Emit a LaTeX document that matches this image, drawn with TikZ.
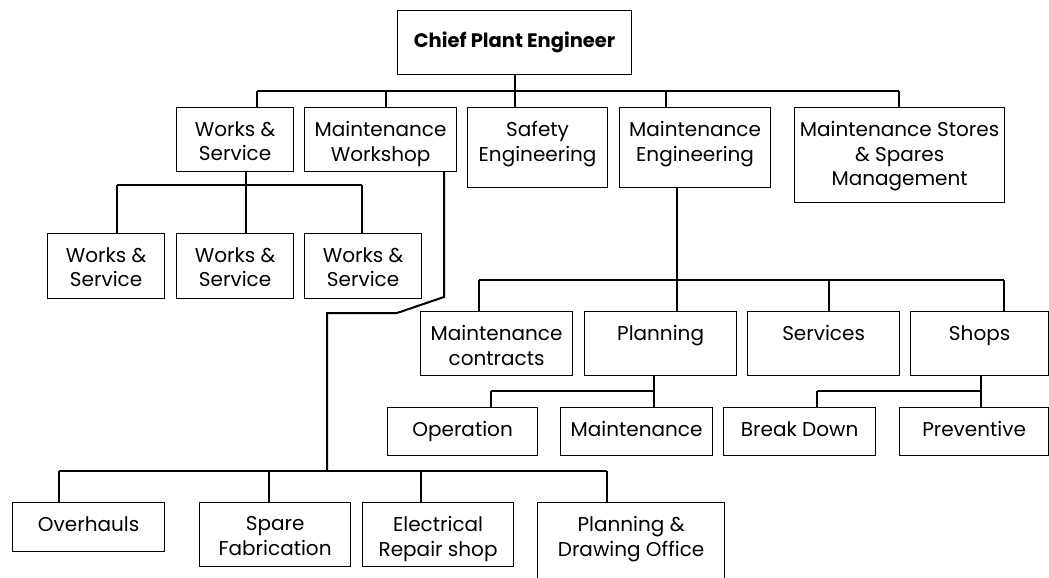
\documentclass[tikz,border=0pt]{standalone}
\usepackage{fontspec}
\setmainfont{Poppins}

\begin{document}
\begin{tikzpicture}[
    x=1pt, y=-1pt,
    box/.style={
        rectangle, draw=black, line width=1.2pt,
        anchor=north west, inner sep=0pt
    },
    txt/.style={
        anchor=north, align=center, inner sep=0pt, yshift=-14pt,
        font=\fontsize{20}{24.7}\selectfont
    },
    link/.style={line width=2pt},
]
\useasboundingbox (0,0) rectangle (1049,578);
\clip (0,0) rectangle (1049,578);

% Capo
\node[box, minimum width=234pt, minimum height=64pt,
      font=\fontsize{19.5}{23}\selectfont\bfseries] (chief) at (397,10)
    {Chief Plant Engineer};

% Primo livello
\node[box, minimum width=117pt, minimum height=64pt,
      label={[txt]north:Works \&\\Service}] (ws) at (176,107) {};
\node[box, minimum width=152pt, minimum height=64pt,
      label={[txt]north:Maintenance\\Workshop}] (shop) at (304,107) {};
\node[box, minimum width=140pt, minimum height=80pt,
      label={[txt]north:Safety\\Engineering}] (safety) at (467,107) {};
\node[box, minimum width=151pt, minimum height=80pt,
      label={[txt]north:Maintenance\\Engineering}] (meng) at (619,107) {};
\node[box, minimum width=210pt, minimum height=95pt,
      label={[txt]north:Maintenance Stores\\\& Spares\\Management}] (stores) at (794,107) {};

% Works & Service
\node[box, minimum width=117pt, minimum height=65pt,
      label={[txt]north:Works \&\\Service}] (ws1) at (47,233) {};
\node[box, minimum width=117pt, minimum height=65pt,
      label={[txt]north:Works \&\\Service}] (ws2) at (176,233) {};
\node[box, minimum width=117pt, minimum height=65pt,
      label={[txt]north:Works \&\\Service}] (ws3) at (304,233) {};

% Maintenance Engineering
\node[box, minimum width=152pt, minimum height=64pt,
      label={[txt]north:Maintenance\\contracts}] (contracts) at (420,311) {};
\node[box, minimum width=152pt, minimum height=64pt,
      label={[txt]north:Planning}] (planning) at (584,311) {};
\node[box, minimum width=152pt, minimum height=64pt,
      label={[txt]north:Services}] (services) at (747,311) {};
\node[box, minimum width=138pt, minimum height=64pt,
      label={[txt]north:Shops}] (shops) at (910,311) {};

% Planning / Shops
\node[box, minimum width=150pt, minimum height=48pt,
      label={[txt]north:Operation}] (oper) at (387,407) {};
\node[box, minimum width=152pt, minimum height=48pt,
      label={[txt]north:Maintenance}] (maint) at (560,407) {};
\node[box, minimum width=152pt, minimum height=48pt,
      label={[txt]north:Break Down}] (bdown) at (723,407) {};
\node[box, minimum width=149pt, minimum height=48pt,
      label={[txt]north:Preventive}] (prev) at (899,407) {};

% Maintenance Workshop
\node[box, minimum width=152pt, minimum height=49pt,
      label={[txt]north:Overhauls}] (overh) at (12,502) {};
\node[box, minimum width=151pt, minimum height=64pt,
      label={[txt]north:Spare\\Fabrication}] (spare) at (199,502) {};
\node[box, minimum width=151pt, minimum height=64pt,
      label={[txt]north:Electrical\\Repair shop}] (elec) at (362,502) {};
\node[box, minimum width=187pt, minimum height=100pt,
      label={[txt]north:Planning \&\\Drawing Office}] (pdo) at (537,502) {};

% Collegamenti primo livello
\coordinate (t1) at (257,91);
\coordinate (t2) at (386,91);
\coordinate (t3) at (666,91);
\coordinate (t4) at (899,91);
\draw[link] (chief.south) -- (chief.south |- safety.north);
\draw[link] (t1) -- (t4);
\draw[link] (t1) -- (t1 |- ws.north);
\draw[link] (t2) -- (t2 |- shop.north);
\draw[link] (t3) -- (t3 |- meng.north);
\draw[link] (t4) -- (t4 |- stores.north);

% Works & Service
\coordinate (w0) at (246,185);
\coordinate (w1) at (117,185);
\coordinate (w3) at (362,185);
\draw[link] (ws.south -| w0) -- (w0);
\draw[link] (w1) -- (w3);
\draw[link] (w1) -- (w1 |- ws1.north);
\draw[link] (w0) -- (w0 |- ws2.north);
\draw[link] (w3) -- (w3 |- ws3.north);

% Maintenance Workshop
\coordinate (k1) at (444,297);
\coordinate (k2) at (397,313);
\coordinate (b0) at (327,471);
\coordinate (b1) at (59,471);
\coordinate (b2) at (269,471);
\coordinate (b3) at (421,471);
\coordinate (b4) at (607,471);
\draw[link] (shop.south -| k1) -- (k1) -- (k2) -- (k2 -| b0) -- (b0);
\draw[link] (b1) -- (b4);
\draw[link] (b1) -- (b1 |- overh.north);
\draw[link] (b2) -- (b2 |- spare.north);
\draw[link] (b3) -- (b3 |- elec.north);
\draw[link] (b4) -- (b4 |- pdo.north);

% Maintenance Engineering
\coordinate (m0) at (677,280);
\coordinate (m1) at (479,280);
\coordinate (m3) at (829,280);
\coordinate (m4) at (1004,280);
\draw[link] (meng.south -| m0) -- (m0 |- planning.north);
\draw[link] (m1) -- (m4);
\draw[link] (m1) -- (m1 |- contracts.north);
\draw[link] (m3) -- (m3 |- services.north);
\draw[link] (m4) -- (m4 |- shops.north);

% Planning
\coordinate (p0) at (654,391);
\coordinate (p1) at (491,391);
\draw[link] (planning.south -| p0) -- (p0 |- maint.north);
\draw[link] (p1) -- (p0);
\draw[link] (p1) -- (p1 |- oper.north);

% Shops
\coordinate (s0) at (981,391);
\coordinate (s1) at (817,391);
\draw[link] (shops.south -| s0) -- (s0 |- prev.north);
\draw[link] (s1) -- (s0);
\draw[link] (s1) -- (s1 |- bdown.north);

\end{tikzpicture}
\end{document}
